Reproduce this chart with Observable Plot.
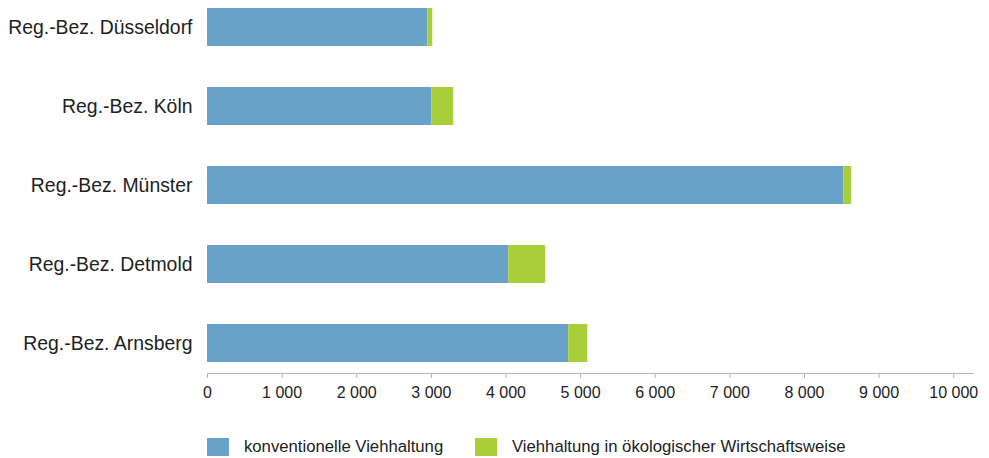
<!DOCTYPE html>
<html>
<head>
<meta charset="utf-8">
<script src="https://cdn.jsdelivr.net/npm/d3@7"></script>
<script src="https://cdn.jsdelivr.net/npm/@observablehq/plot@0.6"></script>
<style>
  html, body { margin: 0; padding: 0; background: #fff; }
  body { width: 989px; height: 458px; overflow: hidden; font-family: "Liberation Sans", Arial, sans-serif; color: #222; }
  #chart svg { display: block; }
  .legend { position: absolute; top: 438px; left: 0; height: 18px; font-size: 16.7px; color: #222; }
  .legend .item { position: absolute; top: 0; display: flex; align-items: center; height: 18px; white-space: nowrap; }
  .legend .sw { width: 22px; height: 18px; margin-right: 15px; flex: none; }
</style>
</head>
<body>
<div id="chart"></div>
<div class="legend">
  <div class="item" style="left:207px"><span class="sw" style="background:#68a2c9"></span><span>konventionelle Viehhaltung</span></div>
  <div class="item" style="left:475px"><span class="sw" style="background:#a8ce3a"></span><span>Viehhaltung in ökologischer Wirtschaftsweise</span></div>
</div>
<script>
const regions = ["Reg.-Bez. Düsseldorf", "Reg.-Bez. Köln", "Reg.-Bez. Münster", "Reg.-Bez. Detmold", "Reg.-Bez. Arnsberg"];
const konventionell = [2952, 3005, 8526, 4037, 4841];
const oekologisch = [67, 295, 107, 496, 255];
const seriesNames = ["konventionelle Viehhaltung", "Viehhaltung in ökologischer Wirtschaftsweise"];
const seriesColors = ["#68a2c9", "#a8ce3a"];
const xTicks = [0, 1000, 2000, 3000, 4000, 5000, 6000, 7000, 8000, 9000, 10000];

const rows = [];
regions.forEach((r, i) => {
  rows.push({region: r, series: seriesNames[0], value: konventionell[i]});
  rows.push({region: r, series: seriesNames[1], value: oekologisch[i]});
});

const fmt = d => d3.format(",")(d).replace(/,/g, " ");

const chart = Plot.plot({
  width: 989,
  height: 410,
  marginLeft: 207,
  marginRight: 16,
  marginTop: 0,
  marginBottom: 37,
  style: {fontFamily: "'Liberation Sans', Arial, sans-serif", color: "#222", background: "#fff"},
  x: {domain: [0, 10265], label: null},
  y: {domain: regions, paddingInner: 0.525, paddingOuter: 0.094, align: 0.4, label: null},
  color: {domain: seriesNames, range: seriesColors},
  marks: [
    Plot.barX(rows, Plot.stackX({y: "region", x: "value", fill: "series", order: seriesNames})),
    Plot.frame({anchor: "bottom", stroke: "#b5b5b5"}),
    Plot.axisX({ticks: xTicks, tickFormat: fmt, tickSize: 5, tickPadding: 8, fontSize: 16, stroke: "#b5b5b5", fill: "#222", label: null}),
    Plot.axisY({tickSize: 0, tickPadding: 15, fontSize: 19.4, fill: "#222", label: null})
  ]
});
document.getElementById("chart").appendChild(chart);
</script>
</body>
</html>
